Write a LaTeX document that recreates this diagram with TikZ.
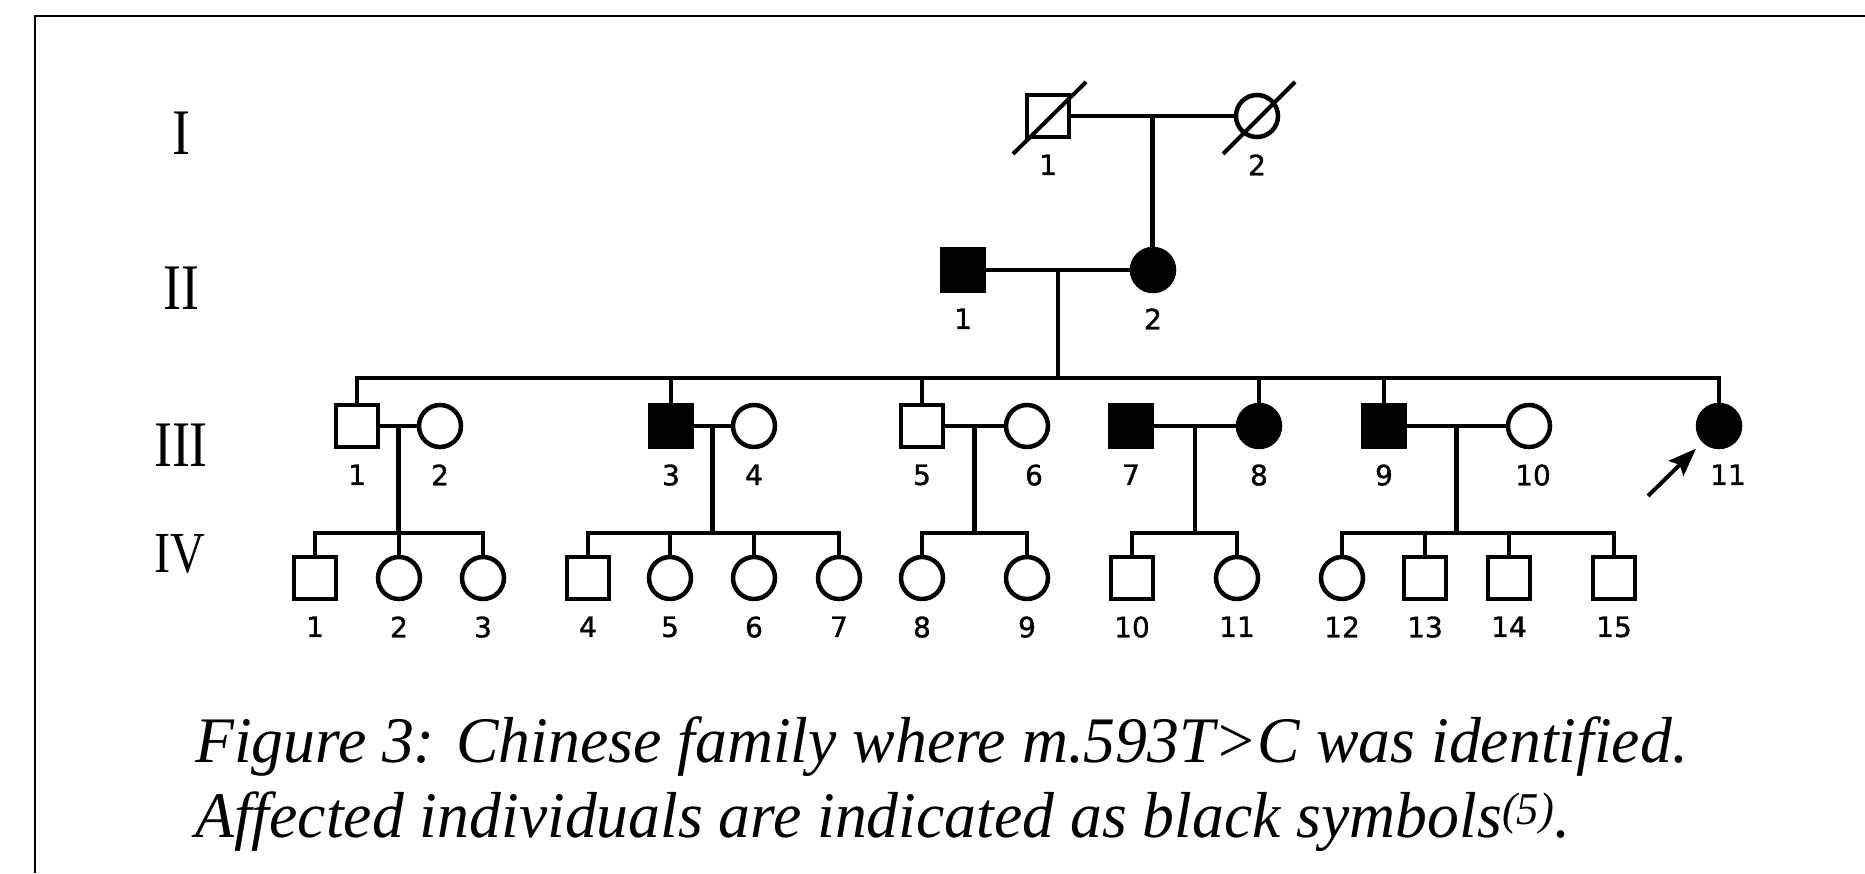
\documentclass[tikz,border=0pt]{standalone}
\usepackage{graphicx}
\usepackage{fontspec}
\setmainfont{Liberation Serif}
\newfontfamily\numfont{DejaVu Sans}[FakeBold=1.2]
\usepackage{tikz}
\usetikzlibrary{arrows.meta}

\newcommand{\squeezed}[1]{\scalebox{0.83}[1]{#1}}
\newcommand{\captext}[1]{\scalebox{0.98}[1]{#1}}

\begin{document}
\begin{tikzpicture}[x=1pt, y=-1pt, line width=4.5pt,
    male/.style={rectangle, draw, minimum size=42pt, inner sep=0pt},
    female/.style={circle, draw, minimum size=42pt, inner sep=0pt},
    affected/.style={fill=black},
    num/.style={font=\numfont\fontsize{28}{28}\selectfont, inner sep=0pt},
    every label/.style={num},
    label distance=13pt,
    gen/.style={font=\fontsize{65}{65}\selectfont, inner sep=0pt},
    caption/.style={anchor=base west, inner sep=0pt, font=\itshape\fontsize{65}{75}\selectfont},
    deceased/.style={line width=4pt},
    proband/.style={-{Stealth[length=28pt,width=21pt,inset=5pt]}, line width=4pt, shorten >=9pt}]

    \useasboundingbox (0,0) rectangle (1865,873);
    \draw[line width=2.5pt] (35,873) -- (35,16) -- (1865,16);

    % generation labels
    \node[gen] (gI)   at (181,133) {\squeezed{I}};
    \node[gen] (gII)  at (181,288) {\squeezed{II}};
    \node[gen] (gIII) at (181,445) {\squeezed{III}};
    \node[gen, font=\fontsize{58}{58}\selectfont] (gIV) at (180,554) {\squeezed{IV}};

    % generation I
    \node[male, label=below:1]   (i1) at (1048,116) {};
    \node[female, label=below:2] (i2) at (1257,116) {};
    \draw[deceased] ([shift={(-35,38)}]i1.center) -- ([shift={(38,-34)}]i1.center);
    \draw[deceased] ([shift={(-34,38)}]i2.center) -- ([shift={(38,-34)}]i2.center);
    \draw (i1) -- coordinate (mI) (i2);

    % generation II
    \node[male, affected, label=below:1]   (ii1) at (963,270) {};
    \node[female, affected, label=below:2] (ii2) at (1153,270) {};
    \draw (mI) -- (mI |- ii2.north);
    \draw (ii1) -- coordinate (mII) (ii2);

    % generation III
    \coordinate (sIII) at (0,378);
    \node[male, label=below:1]    (iii1)  at (357,426) {};
    \node[female, label=below:2]  (iii2)  at (440,426) {};
    \node[male, affected, label=below:3] (iii3) at (671,426) {};
    \node[female, label=below:4]  (iii4)  at (754,426) {};
    \node[male, label=below:5]    (iii5)  at (922,426) {};
    \node[female, label={[xshift=7pt]below:6}] (iii6) at (1027,426) {};
    \node[male, affected, label=below:7]   (iii7) at (1131,426) {};
    \node[female, affected, label=below:8] (iii8) at (1259,426) {};
    \node[male, affected, label=below:9]   (iii9) at (1384,426) {};
    \node[female, label={[xshift=4pt]below:10}] (iii10) at (1529,426) {};
    \node[female, affected, label={[xshift=9pt]below:11}] (iii11) at (1719,426) {};

    \draw (mII) -- (mII |- sIII);
    \draw (iii1.north) -- (iii1 |- sIII) -| (iii11.north);
    \foreach \n in {iii3,iii5,iii8,iii9}
        \draw (\n.north) -- (\n |- sIII);

    \draw (iii1) -- coordinate (m1) (iii2);
    \draw (iii3) -- coordinate (m2) (iii4);
    \draw (iii5) -- coordinate (m3) (iii6);
    \draw (iii7) -- coordinate (m4) (iii8);
    \draw (iii9) -- coordinate (m5) (iii10);

    \coordinate (pb) at (1648,496);
    \draw[proband] (pb) -- (iii11);

    % generation IV
    \coordinate (sIV) at (0,533);
    \node[male, label=below:1]     (iv1)  at (315,578) {};
    \node[female, label=below:2]   (iv2)  at (399,578) {};
    \node[female, label=below:3]   (iv3)  at (483,578) {};
    \node[male, label=below:4]     (iv4)  at (588,578) {};
    \node[female, label=below:5]   (iv5)  at (670,578) {};
    \node[female, label=below:6]   (iv6)  at (754,578) {};
    \node[female, label=below:7]   (iv7)  at (839,578) {};
    \node[female, label=below:8]   (iv8)  at (922,578) {};
    \node[female, label=below:9]   (iv9)  at (1027,578) {};
    \node[male, label=below:10]    (iv10) at (1132,578) {};
    \node[female, label=below:11]  (iv11) at (1237,578) {};
    \node[female, label=below:12]  (iv12) at (1342,578) {};
    \node[male, label=below:13]    (iv13) at (1425,578) {};
    \node[male, label=below:14]    (iv14) at (1509,578) {};
    \node[male, label=below:15]    (iv15) at (1614,578) {};

    \foreach \m in {m1,m2,m3,m4,m5}
        \draw (\m) -- (\m |- sIV);
    \draw (iv1.north) -- (iv1 |- sIV) -| (iv3.north);
    \draw (iv4.north) -- (iv4 |- sIV) -| (iv7.north);
    \draw (iv8.north) -- (iv8 |- sIV) -| (iv9.north);
    \draw (iv10.north) -- (iv10 |- sIV) -| (iv11.north);
    \draw (iv12.north) -- (iv12 |- sIV) -| (iv15.north);
    \foreach \n in {iv2,iv5,iv6,iv13,iv14}
        \draw (\n.north) -- (\n |- sIV);

    % caption
    \node[caption] (cap1) at (193,762) {\captext{Figure 3: Chinese family where m.593T>C was identified.}};
    \node[caption] (cap2) at (193,837) {\captext{Affected individuals are indicated as black symbols\textsuperscript{(5)}.}};
\end{tikzpicture}
\end{document}
